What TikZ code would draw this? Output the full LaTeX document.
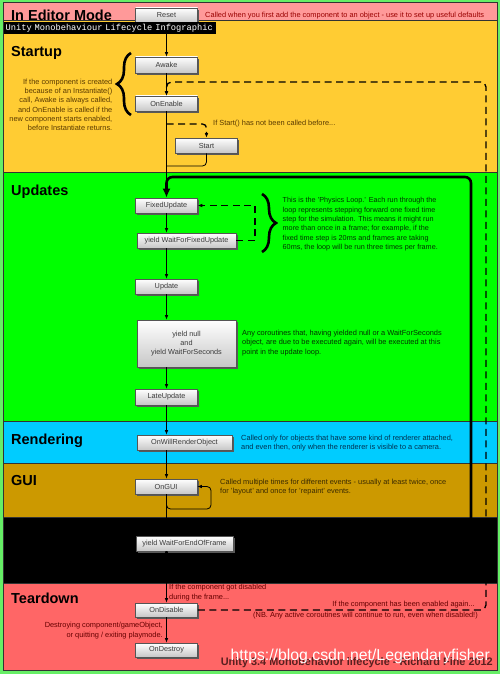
\documentclass[tikz,border=0pt]{standalone}
\usepackage{fontspec}
\setmainfont{Liberation Sans}
\setmonofont{Liberation Mono}
\usetikzlibrary{arrows.meta,shadows,decorations.pathreplacing}
\definecolor{frameg}{HTML}{66EE66}
\definecolor{editorc}{HTML}{FF9999}
\definecolor{startc}{HTML}{FFCC33}
\definecolor{updc}{HTML}{00FF00}
\definecolor{rendc}{HTML}{00CCFF}
\definecolor{guic}{HTML}{CC9900}
\definecolor{teardc}{HTML}{FF6666}
\definecolor{boxline}{HTML}{555555}
\definecolor{boxtext}{HTML}{3A3A3A}
\definecolor{txteditor}{HTML}{990000}
\definecolor{txtstart}{HTML}{5A3A00}
\definecolor{txtupd}{HTML}{003300}
\definecolor{txtrend}{HTML}{003050}
\definecolor{txtgui}{HTML}{3A2A00}
\definecolor{txttear}{HTML}{660000}
\definecolor{footc}{HTML}{5A2020}
\begin{document}
\begin{tikzpicture}[x=1pt,y=-1pt,
 sect/.style={draw=black!80, line width=0.6pt},
 fn/.style={draw=boxline, line width=0.6pt, top color=white, bottom color=black!22,
   minimum width=62pt, minimum height=15pt, inner sep=1pt, text=boxtext,
   font=\fontsize{7.3}{8.8}\selectfont,
   drop shadow={shadow xshift=1.6pt, shadow yshift=-1.6pt, fill=black!65, opacity=1}},
 wide/.style={fn, minimum width=99pt},
 sectitle/.style={anchor=base west, font=\fontsize{14.5}{16}\selectfont\bfseries, inner sep=0pt},
 para/.style={inner sep=0pt, font=\fontsize{7.4}{9.3}\selectfont},
 flow/.style={line width=0.8pt, -{Latex[length=4.5pt,width=3.6pt]}},
 plain/.style={line width=0.8pt},
 dashy/.style={line width=1.3pt, dash pattern=on 7pt off 4.5pt},
 dashflow/.style={dashy, -{Latex[length=4.5pt,width=3.6pt]}},
 bigloop/.style={line width=2.6pt, rounded corners=6pt, -{Latex[length=9pt,width=8pt]}},
 bracey/.style={decorate, decoration={brace, amplitude=14pt}, line width=2.6pt}
]
\useasboundingbox (0,0) rectangle (500,674);
\fill[frameg] (0,0) rectangle (500,674);
% sections
\filldraw[sect, fill=editorc] (3,2) rectangle (497,20.7);
\filldraw[sect, fill=startc] (3,20.7) rectangle (497,172);
\filldraw[sect, fill=updc] (3,172) rectangle (497,421);
\filldraw[sect, fill=rendc] (3,421) rectangle (497,463);
\filldraw[sect, fill=guic] (3,463) rectangle (497,517);
\filldraw[sect, fill=black] (3,517) rectangle (497,583);
\filldraw[sect, fill=teardc] (3,583) rectangle (497,670);

% titles
\node[sectitle] (tEditor) at (11,20.3) {In Editor Mode};
\node[sectitle] (tStart) at (11,56.7) {Startup};
\node[sectitle] (tUpd) at (11,195.5) {Updates};
\node[sectitle] (tRend) at (11,444) {Rendering};
\node[sectitle] (tGui) at (11,485) {GUI};
\node[sectitle] (tTear) at (11,603) {Teardown};

% coordinates
\coordinate (m) at (166.5,0);
\coordinate (sd0) at (166.5,124);
\coordinate (sj) at (166.5,166);
\coordinate (ou) at (166.5,186);
\coordinate (cA) at (166.5,565);
\coordinate (cB) at (471,565);
\coordinate (cC) at (471,177);
\coordinate (cD) at (166.5,177);
\coordinate (dl1) at (486,610);
\coordinate (dl2) at (486,82);
\coordinate (dl3) at (166.5,82);
\coordinate (pd1) at (255,240.5);
\coordinate (gl1) at (166.5,509);
\coordinate (gl2) at (211,509);
\coordinate (gl3) at (211,486.5);

% boxes
\node[fn] (Reset) at (166.5,15.5) {Reset};
\node[fn, minimum height=16pt] (Awake) at (166.5,65) {Awake};
\node[fn] (OnEnable) at (166.5,103.5) {OnEnable};
\node[fn] (Start) at (206.5,145.5) {Start};
\node[fn] (FixedUpdate) at (166.5,205.5) {FixedUpdate};
\node[wide] (WFFU) at (186.5,240.5) {yield WaitForFixedUpdate};
\node[fn] (Update) at (166.5,286.5) {Update};
\node[wide, minimum height=47pt, align=center] (YNull) at (186.5,343.5) {yield null\\and\\yield WaitForSeconds};
\node[fn, minimum height=16pt] (LateUpdate) at (166.5,397) {LateUpdate};
\node[fn, minimum width=95pt] (OWRO) at (184.5,442.5) {OnWillRenderObject};
\node[fn] (OnGUI) at (166,486.5) {OnGUI};
\node[fn, minimum width=97pt] (WFEOF) at (184.5,543.5) {yield WaitForEndOfFrame};
\node[fn, minimum height=14pt] (OnDisable) at (166.5,610) {OnDisable};
\node[fn, minimum height=14pt] (OnDestroy) at (166.5,650) {OnDestroy};

% connectors
\draw[flow] (Reset.south) -- (Awake.north);
\draw[flow] (Awake.south) -- (OnEnable.north);
\draw[plain] (OnEnable.south) -- (ou);
\draw[dashflow, rounded corners=4pt] (sd0) -| (Start.north);
\draw[plain, rounded corners=4pt] (Start.south) |- (sj);
\draw[dashy, rounded corners=5pt, -{Latex[length=4.5pt,width=3.6pt]}] (OnDisable.east) -- (dl1) -- (dl2) -- (dl3) -- (OnEnable.north);
\draw[bigloop] (WFEOF.south -| m) -- (cA) -- (cB) -- (cC) -- (cD) -- (FixedUpdate.north);
\draw[flow] (FixedUpdate.south) -- (WFFU.north -| m);
\draw[dashflow] (WFFU.east) -- (pd1) |- (FixedUpdate.east);
\draw[flow] (WFFU.south -| m) -- (Update.north);
\draw[flow] (Update.south) -- (YNull.north -| m);
\draw[flow] (YNull.south -| m) -- (LateUpdate.north);
\draw[flow] (LateUpdate.south) -- (OWRO.north -| m);
\draw[flow] (OWRO.south -| m) -- (OnGUI.north -| m);
\draw[plain, rounded corners=4pt, -{Latex[length=4.5pt,width=3.6pt]}] (OnGUI.south -| m) -- (gl1) -- (gl2) -- (gl3) -- (OnGUI.east);
\draw[plain] (OnGUI.south -| m) -- (WFEOF.north -| m);
\draw[flow] (WFEOF.south -| m) -- (OnDisable.north);
\draw[flow] (OnDisable.south) -- (OnDestroy.north);

% braces
\draw[bracey] (131,115) -- (131,53);
\draw[bracey] (262,194) -- (262,252);

% texts
\node[para, anchor=west, text=txteditor] (rText) at (205,15.5) {Called when you first add the component to an object - use it to set up useful defaults};
\node[para, anchor=north east, align=right, text=txtstart] (sText) at (112.5,78.7) {If the component is created\\because of an Instantiate()\\call, Awake is always called,\\and OnEnable is called if the\\new component starts enabled,\\before Instantiate returns.};
\node[para, anchor=west, text=txtstart] (stText) at (213,124) {If Start() has not been called before...};
\node[para, anchor=north west, align=left, text=txtupd, font=\fontsize{7.25}{9.3}\selectfont] (pText) at (282.5,197.4) {This is the 'Physics Loop.' Each run through the\\loop represents stepping forward one fixed time\\step for the simulation. This means it might run\\more than once in a frame; for example, if the\\fixed time step is 20ms and frames are taking\\60ms, the loop will be run three times per frame.};
\node[para, anchor=north west, align=left, text=txtupd, font=\fontsize{7.4}{9.5}\selectfont] (cText) at (242,329.7) {Any coroutines that, having yielded null or a WaitForSeconds\\object, are due to be executed again, will be executed at this\\point in the update loop.};
\node[para, anchor=north west, align=left, text=txtrend, font=\fontsize{7.4}{9}\selectfont] (rdText) at (241,434.7) {Called only for objects that have some kind of renderer attached,\\and even then, only when the renderer is visible to a camera.};
\node[para, anchor=north west, align=left, text=txtgui, font=\fontsize{7.4}{9}\selectfont] (gText) at (220,478.7) {Called multiple times for different events - usually at least twice, once\\for 'layout' and once for 'repaint' events.};
\node[para, anchor=north west, align=left, text=txttear, font=\fontsize{7.4}{10}\selectfont] (dText) at (169,583.7) {If the component got disabled\\during the frame...};
\node[para, anchor=east, text=txttear] (eText) at (475,605) {If the component has been enabled again...};
\node[para, anchor=east, text=txttear] (nbText) at (478,616) {(NB. Any active coroutines will continue to run, even when disabled!)};
\node[para, anchor=north east, align=right, text=txttear, font=\fontsize{7.4}{10}\selectfont] (xText) at (163,621.7) {Destroying component/gameObject,\\or quitting / exiting playmode.};

% footer and watermark
\node[anchor=base east, inner sep=0pt, text=footc, font=\fontsize{10.9}{12}\selectfont\bfseries] (foot) at (493,665) {Unity 3.4 Monobehavior lifecycle - Richard Fine 2012};
\node[anchor=base east, inner sep=0pt, text=white, font=\fontsize{15.8}{17}\selectfont] (wm) at (490,660) {https://blog.csdn.net/Legendaryfisher};

% label box
\node[anchor=north west, fill=black, text=white, inner sep=1.5pt, minimum width=212pt, minimum height=12pt, text width=209pt, font=\fontsize{8.7}{9}\ttfamily] (lbl) at (4,22) {Unity Monobehaviour Lifecycle Infographic};
\end{tikzpicture}
\end{document}
